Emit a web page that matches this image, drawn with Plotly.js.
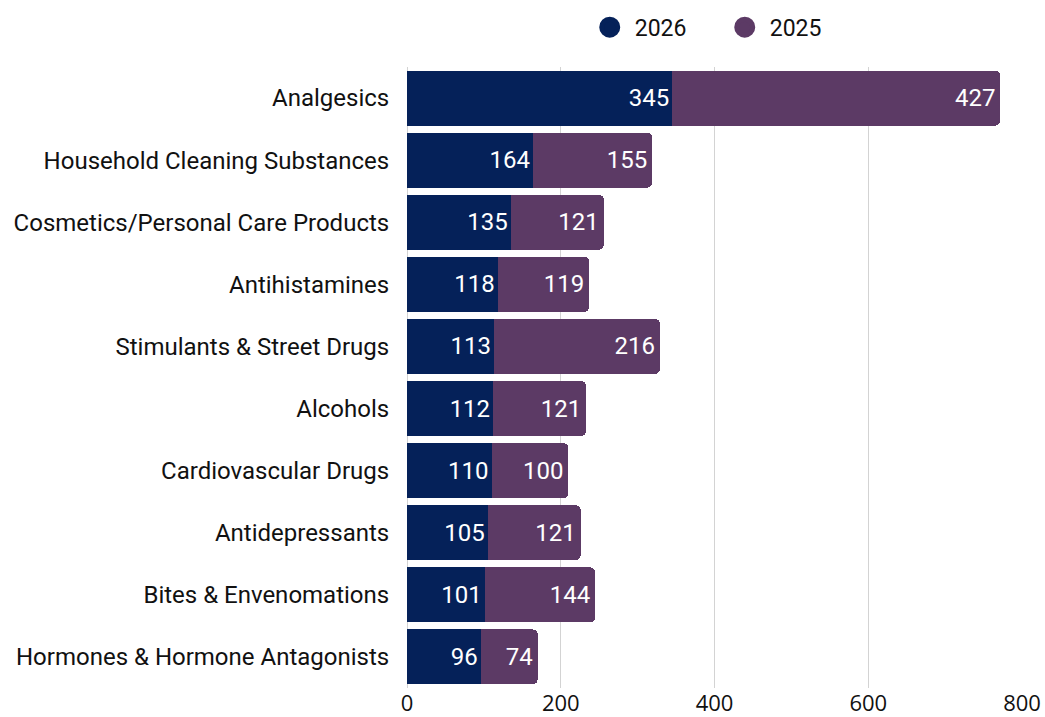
<!DOCTYPE html>
<html>
<head>
<meta charset="utf-8">
<script src="https://cdn.plot.ly/plotly-3.0.1.min.js"></script>
<style>html,body{margin:0;padding:0;background:#fff;}#chart{width:1045px;height:717px;}</style>
</head>
<body>
<div id="chart"></div>
<script>
const categories = [
  "Analgesics",
  "Household Cleaning Substances",
  "Cosmetics/Personal Care Products",
  "Antihistamines",
  "Stimulants & Street Drugs",
  "Alcohols",
  "Cardiovascular Drugs",
  "Antidepressants",
  "Bites & Envenomations",
  "Hormones & Hormone Antagonists"
];
const values2026 = [345, 164, 135, 118, 113, 112, 110, 105, 101, 96];
const values2025 = [427, 155, 121, 119, 216, 121, 100, 121, 144, 74];
const xTickValues = [0, 200, 400, 600, 800];

const navy = "#052159";
const purple = "#5c3a65";
const labelFont = {family: "Roboto", size: 24, color: "#ffffff"};

const traces = [
  {
    type: "bar", orientation: "h", name: "2026",
    y: categories, x: values2026,
    marker: {color: navy},
    text: values2026.map(String), textposition: "inside", insidetextanchor: "end",
    textfont: labelFont, showlegend: false, hoverinfo: "x+y"
  },
  {
    type: "bar", orientation: "h", name: "2025",
    y: categories, x: values2025,
    marker: {color: purple},
    text: values2025.map(String), textposition: "inside", insidetextanchor: "end",
    textfont: labelFont, showlegend: false, hoverinfo: "x+y"
  },
  {
    type: "scatter", mode: "markers", name: "2026", x: [null], y: [null],
    marker: {symbol: "circle", size: 16, color: navy, line: {color: navy, width: 5}},
    showlegend: true, hoverinfo: "skip"
  },
  {
    type: "scatter", mode: "markers", name: "2025", x: [null], y: [null],
    marker: {symbol: "circle", size: 16, color: purple, line: {color: purple, width: 5}},
    showlegend: true, hoverinfo: "skip"
  }
];

const layout = {
  width: 1045, height: 717,
  margin: {l: 407, r: 23, t: 67, b: 29, pad: 0},
  paper_bgcolor: "#ffffff", plot_bgcolor: "#ffffff",
  barmode: "stack", bargap: 0.114, barcornerradius: 5,
  font: {family: "Roboto", size: 24, color: "#111111"},
  xaxis: {
    range: [0, 800], tickvals: xTickValues, ticktext: xTickValues.map(String),
    showgrid: true, gridcolor: "#d3d3d3", gridwidth: 1,
    zeroline: true, zerolinecolor: "#d3d3d3", zerolinewidth: 1,
    showline: false, ticks: "", automargin: false,
    tickfont: {family: "Open Sans", size: 22, color: "#111111"}
  },
  yaxis: {
    type: "category", autorange: "reversed", automargin: false,
    showgrid: false, zeroline: false, showline: false,
    ticks: "outside", ticklen: 12, tickcolor: "rgba(0,0,0,0)",
    tickfont: {family: "Roboto", size: 24, color: "#111111"}
  },
  legend: {
    orientation: "h", xref: "paper", x: 0.289, xanchor: "left",
    yref: "container", y: 0.962, yanchor: "middle",
    font: {family: "Roboto", size: 23, color: "#111111"},
    itemwidth: 40, entrywidth: 80, entrywidthmode: "pixels", traceorder: "normal"
  }
};

Plotly.newPlot("chart", traces, layout, {displayModeBar: false, staticPlot: true});
</script>
</body>
</html>
